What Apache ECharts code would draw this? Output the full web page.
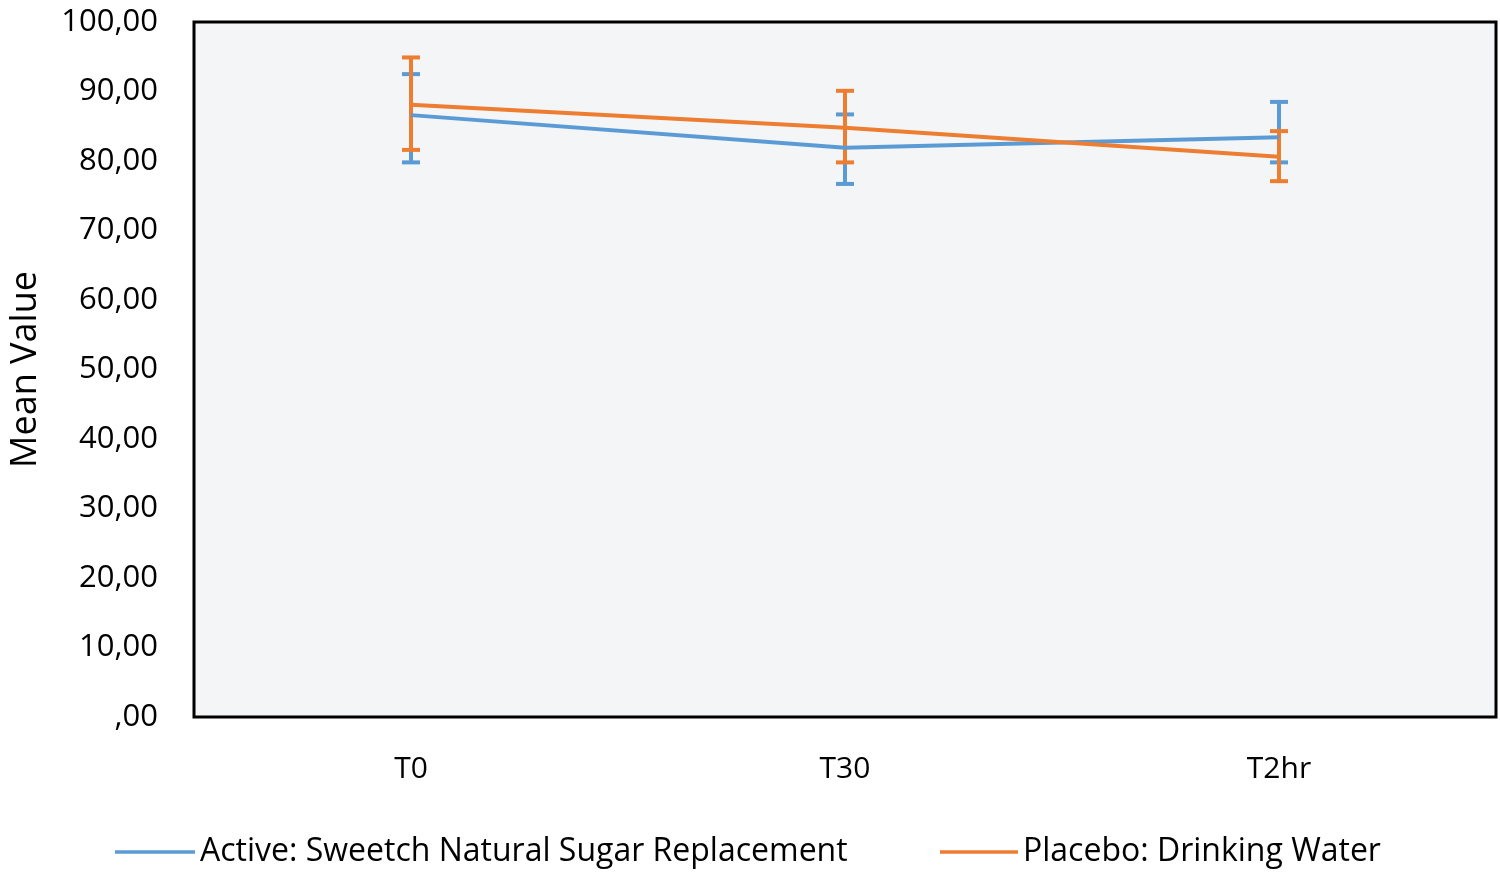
<!DOCTYPE html>
<html><head><meta charset="utf-8">
<script src="https://cdn.jsdelivr.net/npm/echarts@6/dist/echarts.min.js"></script>
<style>html,body{margin:0;padding:0;background:#fff}#c{width:1500px;height:874px}</style>
</head><body><div id="c"></div>
<script>
const categories = ['T0', 'T30', 'T2hr'];
const activeMean = [86.6, 81.9, 83.4];
const activeLow = [79.8, 76.7, 79.8];
const activeHigh = [92.5, 86.7, 88.5];
const placeboMean = [88.1, 84.8, 80.6];
const placeboLow = [81.6, 79.8, 77.1];
const placeboHigh = [94.9, 90.1, 84.3];
const yTicks = [0, 10, 20, 30, 40, 50, 60, 70, 80, 90, 100];

const BLUE = '#5B9BD5', ORANGE = '#ED7D31';
const FONT = 'Open Sans';

function errSeries(name, low, high, color) {
  return {
    type: 'custom', name: name, z: color === ORANGE ? 4 : 3,
    data: low.map((l, i) => [i, l, high[i]]),
    renderItem: function (params, api) {
      const i = api.value(0);
      const lo = api.coord([i, api.value(1)]);
      const hi = api.coord([i, api.value(2)]);
      const w = 9;
      const st = { stroke: color, lineWidth: 4 };
      return { type: 'group', children: [
        { type: 'line', shape: { x1: lo[0], y1: lo[1], x2: hi[0], y2: hi[1] }, style: st },
        { type: 'line', shape: { x1: lo[0] - w, y1: lo[1], x2: lo[0] + w, y2: lo[1] }, style: st },
        { type: 'line', shape: { x1: hi[0] - w, y1: hi[1], x2: hi[0] + w, y2: hi[1] }, style: st }
      ]};
    },
    silent: true
  };
}

const chart = echarts.init(document.getElementById('c'));
chart.setOption({
  animation: false,
  grid: { left: 192, right: 4, top: 22, bottom: 157, show: true, backgroundColor: '#F4F5F7', borderColor: '#000', borderWidth: 3 },
  legend: [
    { left: 110, top: 831, itemWidth: 80, itemHeight: 3.5, icon: 'rect', itemGap: 10,
      textStyle: { fontFamily: FONT, fontSize: 32, color: '#000' },
      data: [{ name: 'Active: Sweetch Natural Sugar Replacement' }] },
    { left: 935, top: 831, itemWidth: 78, itemHeight: 3.5, icon: 'rect',
      textStyle: { fontFamily: FONT, fontSize: 32, color: '#000' },
      data: [{ name: 'Placebo: Drinking Water' }] }
  ],
  xAxis: {
    type: 'category', data: categories, boundaryGap: true,
    axisLine: { show: false }, axisTick: { show: false },
    axisLabel: { fontFamily: FONT, fontSize: 30, color: '#000', margin: 37 }
  },
  yAxis: {
    type: 'value', min: yTicks[0], max: yTicks[yTicks.length - 1], interval: 10,
    name: 'Mean Value', nameLocation: 'middle', nameGap: 150, nameRotate: 90,
    nameTextStyle: { fontFamily: FONT, fontSize: 36, color: '#000' },
    axisLine: { show: false }, axisTick: { show: false }, splitLine: { show: false },
    axisLabel: { fontFamily: FONT, fontSize: 31, color: '#000', margin: 36,
      formatter: v => v === 0 ? ',00' : v.toFixed(2).replace('.', ',') }
  },
  series: [
    errSeries('activeErr', activeLow, activeHigh, BLUE),
    errSeries('placeboErr', placeboLow, placeboHigh, ORANGE),
    { name: 'Active: Sweetch Natural Sugar Replacement', type: 'line', data: activeMean, showSymbol: false, symbol: 'none',
      lineStyle: { color: BLUE, width: 4 }, itemStyle: { color: BLUE }, z: 5 },
    { name: 'Placebo: Drinking Water', type: 'line', data: placeboMean, showSymbol: false, symbol: 'none',
      lineStyle: { color: ORANGE, width: 4 }, itemStyle: { color: ORANGE }, z: 6 }
  ]
});
</script></body></html>
